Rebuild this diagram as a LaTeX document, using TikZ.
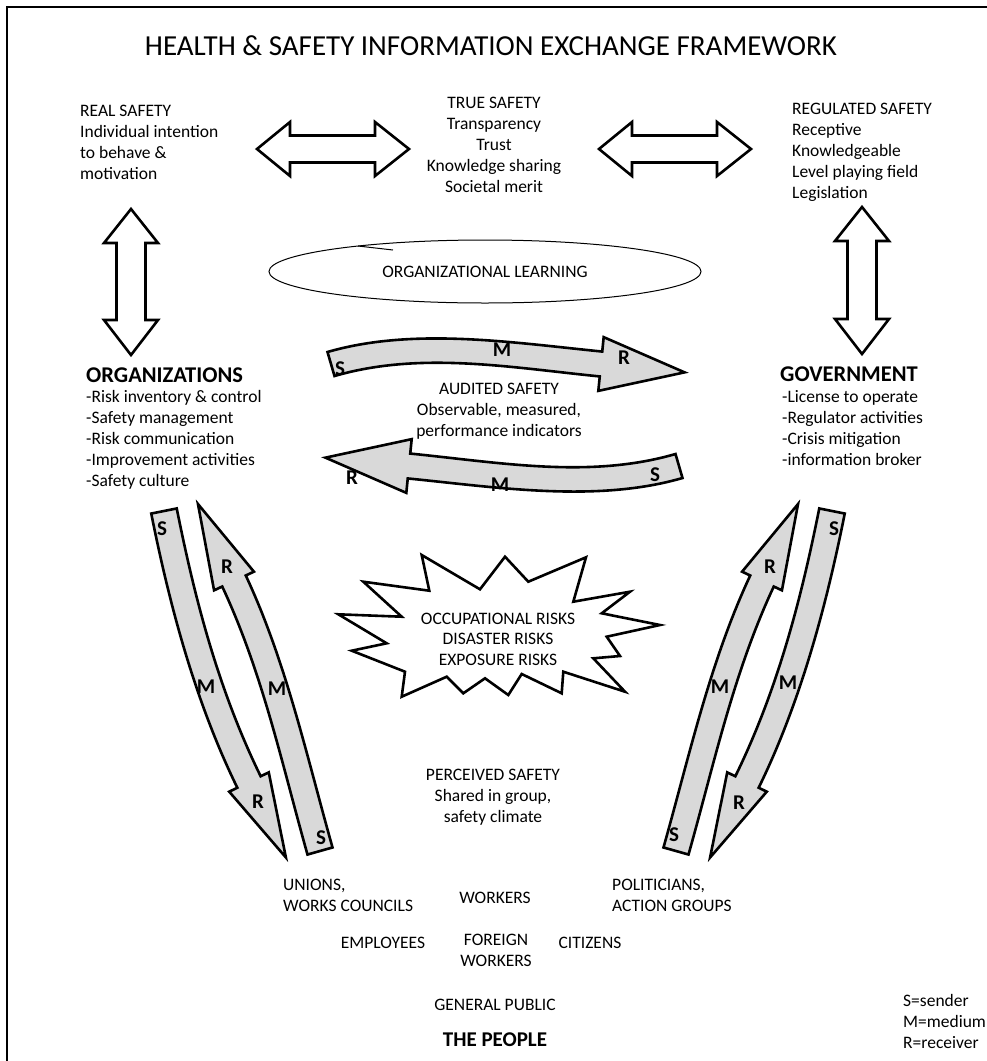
\documentclass[tikz,border=0pt]{standalone}
\usepackage{fontspec}
\setmainfont{Carlito}
\usetikzlibrary{calc}
\definecolor{arrowgray}{HTML}{D9D9D9}
\tikzset{
  body/.style={font=\fontsize{17.5}{21}\selectfont, inner sep=0pt},
  heading/.style={font=\fontsize{22.5}{26}\selectfont\bfseries, inner sep=0pt},
  titletext/.style={font=\fontsize{29}{34}\selectfont, inner sep=0pt},
  smr/.style={font=\fontsize{21}{24}\selectfont\bfseries, inner sep=0pt},
  blockarrow/.style={draw=black, line width=2.6pt, fill=arrowgray, line join=miter},
  dblarrow/.style={draw=black, line width=2.6pt, fill=white, line join=miter},
}
% curved block arrow: P0, C1, C2, P3 (head base), half width, head half width, head length
\newcommand{\cblock}[7]{%
  \draw[blockarrow] ($(#1)!#5!90:(#2)$) .. controls ($(#2)!#5!-90:(#1)$) and ($(#3)!#5!90:(#4)$) .. ($(#4)!#5!-90:(#3)$)
   -- ($(#4)!#6!-90:(#3)$) -- ($(#4)!#7!180:(#3)$) -- ($(#4)!#6!90:(#3)$) -- ($(#4)!#5!90:(#3)$)
   .. controls ($(#3)!#5!-90:(#4)$) and ($(#2)!#5!90:(#1)$) .. ($(#1)!#5!-90:(#2)$) -- cycle;}
% horizontal double arrow: left tip x, right tip x, centre y
\newcommand{\hdbl}[3]{%
  \draw[dblarrow] (#1,#3) -- (#1+33,#3-27) -- (#1+33,#3-13.5) -- (#2-34,#3-13.5) -- (#2-34,#3-27) -- (#2,#3)
   -- (#2-34,#3+27) -- (#2-34,#3+13.5) -- (#1+33,#3+13.5) -- (#1+33,#3+27) -- cycle;}
% vertical double arrow: centre x, top tip y, bottom tip y
\newcommand{\vdbl}[3]{%
  \draw[dblarrow] (#1,#2) -- (#1+27,#2+34) -- (#1+14.5,#2+34) -- (#1+14.5,#3-35) -- (#1+27,#3-35) -- (#1,#3)
   -- (#1-27,#3-35) -- (#1-14.5,#3-35) -- (#1-14.5,#2+34) -- (#1-27,#2+34) -- cycle;}
\begin{document}
\begin{tikzpicture}[x=1pt,y=-1pt]
\useasboundingbox (0,0) rectangle (987,1061);
\draw[line width=2pt] (7,1061) -- (7,7) -- (987,7);

% title
\node[titletext] (title) at (491,46) {HEALTH \& SAFETY INFORMATION EXCHANGE FRAMEWORK};

% top texts
\node[body, align=left, anchor=west] (real) at (80,142) {REAL SAFETY\\Individual intention\\to behave \&\\motivation};
\node[body, align=center] (true) at (494,145) {TRUE SAFETY\\Transparency\\Trust\\Knowledge sharing\\Societal merit};
\node[body, align=left, anchor=west] (regulated) at (792,152) {REGULATED SAFETY\\Receptive\\Knowledgeable\\Level playing field\\Legislation};

% double arrows
\hdbl{257}{409}{149}
\hdbl{599}{751}{149}
\vdbl{131}{209}{355}
\vdbl{862}{207}{354}

% organizational learning
\draw[line width=1pt] (485,271.5) ellipse [x radius=216, y radius=31.5];
\draw[line width=1pt] (358,246) -- (393,250);
\node[body] (learning) at (485,272) {ORGANIZATIONAL LEARNING};

% organizations / government
\node[heading, anchor=west] (orgs) at (86,375) {ORGANIZATIONS};
\node[body, align=left, anchor=west] (orglist) at (86,440) {-Risk inventory \& control\\-Safety management\\-Risk communication\\-Improvement activities\\-Safety culture};
\node[heading, anchor=west] (gov) at (780,374) {GOVERNMENT};
\node[body, align=left, anchor=west] (govlist) at (782,428) {-License to operate\\-Regulator activities\\-Crisis mitigation\\-information broker};

% horizontal S-M-R arrows
\coordinate (tP0) at (331,364);
\coordinate (tC1) at (417,339);
\coordinate (tC2) at (511,355);
\coordinate (tP3) at (601,364);
\cblock{tP0}{tC1}{tC2}{tP3}{12.5pt}{27pt}{84pt}
\coordinate (lP0) at (679,466);
\coordinate (lC1) at (593,491);
\coordinate (lC2) at (499,475);
\coordinate (lP3) at (409,466);
\cblock{lP0}{lC1}{lC2}{lP3}{12.5pt}{27pt}{84pt}
\node[smr] (tS) at (340,369) {S};
\node[smr] (tM) at (502,350) {M};
\node[smr] (tR) at (624,358) {R};
\node[smr] (lR) at (352,478) {R};
\node[smr] (lM) at (500,485) {M};
\node[smr] (lS) at (655,475) {S};
\node[body, align=center] (audited) at (499,411) {AUDITED SAFETY\\Observable, measured,\\performance indicators};

% right diagonal pair
\coordinate (aP0) at (676,851);
\coordinate (aC1) at (701.8,759.6);
\coordinate (aC2) at (721.7,667.1);
\coordinate (aP3) at (762,581);
\cblock{aP0}{aC1}{aC2}{aP3}{13pt}{22pt}{85pt}
\coordinate (bP0) at (832,511);
\coordinate (bC1) at (813.4,604.2);
\coordinate (bC2) at (788.7,696.7);
\coordinate (bP3) at (747,782);
\cblock{bP0}{bC1}{bC2}{bP3}{13pt}{22pt}{84pt}
\node[smr] (aR) at (770,567) {R};
\node[smr] (aM) at (720,687) {M};
\node[smr] (aS) at (674,835) {S};
\node[smr] (bS) at (834,529) {S};
\node[smr] (bM) at (788,683) {M};
\node[smr] (bR) at (739,803) {R};

% left diagonal pair
\coordinate (cP0) at (164,511);
\coordinate (cC1) at (182.6,604.2);
\coordinate (cC2) at (207.3,696.7);
\coordinate (cP3) at (249,782);
\cblock{cP0}{cC1}{cC2}{cP3}{13pt}{22pt}{84pt}
\coordinate (dP0) at (320,851);
\coordinate (dC1) at (294.2,759.6);
\coordinate (dC2) at (274.3,667.1);
\coordinate (dP3) at (234,581);
\cblock{dP0}{dC1}{dC2}{dP3}{13pt}{22pt}{85pt}
\node[smr] (cS) at (162,529) {S};
\node[smr] (cM) at (206,687) {M};
\node[smr] (cR) at (258,802) {R};
\node[smr] (dR) at (227,567) {R};
\node[smr] (dM) at (277,689) {M};
\node[smr] (dS) at (321,838) {S};

% risks star
\draw[line width=2.6pt, fill=white, line join=miter]
 (338.3,614.3) -- (401.7,616.7) -- (363.3,581.7) -- (429.3,590.7) -- (421.7,555) -- (480,589.3)
 -- (505,556.7) -- (528.3,581.7) -- (586,557.3) -- (573.3,601.7) -- (630,591.7) -- (601.7,613.3)
 -- (660,625) -- (606.7,636.7) -- (620,656) -- (593.3,658.3) -- (625,691.7) -- (563.3,671.7)
 -- (561.7,693.3) -- (521.7,674) -- (508.3,695) -- (485,678.3) -- (463.3,693.3) -- (446.7,676.7)
 -- (401.7,696.7) -- (405,671.7) -- (351.7,650.7) -- (386.7,643.3) -- cycle;
\node[body, align=center, font=\fontsize{17.5}{20.5}\selectfont] (risks) at (498,639) {OCCUPATIONAL RISKS\\DISASTER RISKS\\EXPOSURE RISKS};

% perceived safety
\node[body, align=center] (perceived) at (493,797) {PERCEIVED SAFETY\\Shared in group,\\safety climate};

% the people
\node[body, align=left, anchor=west] (unions) at (283,895) {UNIONS,\\WORKS COUNCILS};
\node[body] (workers) at (495,898) {WORKERS};
\node[body, align=left, anchor=west] (politicians) at (612,895) {POLITICIANS,\\ACTION GROUPS};
\node[body] (employees) at (383,943) {EMPLOYEES};
\node[body, align=center] (foreign) at (496,950) {FOREIGN\\WORKERS};
\node[body] (citizens) at (590,943) {CITIZENS};
\node[body] (public) at (495,1005) {GENERAL PUBLIC};
\node[heading, font=\fontsize{21}{24}\selectfont\bfseries] (people) at (495,1040) {THE PEOPLE};

% legend
\node[body, align=left, anchor=west] (legend) at (903,1021) {S=sender\\M=medium\\R=receiver};
\end{tikzpicture}
\end{document}
